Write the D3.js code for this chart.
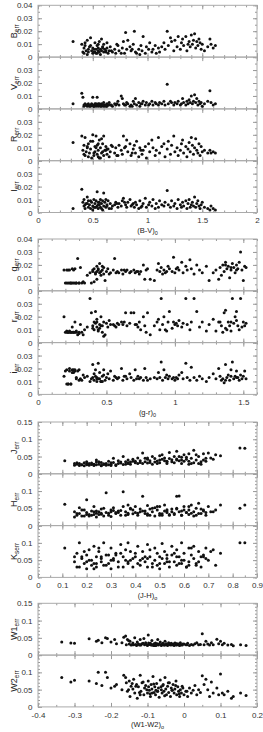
<!DOCTYPE html>
<html>
<head>
<meta charset="utf-8">
<script src="https://cdn.jsdelivr.net/npm/d3@7"></script>
<style>
body { margin: 0; background: #fff; }
svg { display: block; font-family: "Liberation Sans", Arial, sans-serif; }
.tick text { fill: #333; font-size: 8px; }
.tick line { stroke: #999; }
</style>
</head>
<body>
<script>
// ---- (B-V)0 group: B, V, R, I errors ----
const bv0 = [
  0.32, 0.40, 0.41, 0.42, 0.42, 0.43, 0.44, 0.45, 0.46, 0.46,
  0.47, 0.48, 0.49, 0.50, 0.50, 0.51, 0.52, 0.52, 0.53, 0.54,
  0.54, 0.55, 0.55, 0.56, 0.57, 0.57, 0.58, 0.59, 0.60, 0.60,
  0.61, 0.62, 0.63, 0.64, 0.65, 0.66, 0.68, 0.70, 0.71, 0.73,
  0.74, 0.76, 0.77, 0.78, 0.80, 0.81, 0.82, 0.84, 0.85, 0.87,
  0.88, 0.89, 0.90, 0.92, 0.93, 0.95, 0.96, 0.98, 0.99, 1.01,
  1.02, 1.04, 1.05, 1.07, 1.08, 1.10, 1.11, 1.13, 1.15, 1.16,
  1.18, 1.19, 1.21, 1.22, 1.24, 1.25, 1.27, 1.28, 1.30, 1.31,
  1.32, 1.33, 1.35, 1.36, 1.37, 1.38, 1.39, 1.40, 1.41, 1.42,
  1.43, 1.44, 1.45, 1.46, 1.47, 1.48, 1.49, 1.50, 1.52, 1.55,
  1.57, 1.58, 1.60, 1.62, 0.43, 0.48, 0.53, 0.56, 0.58, 0.62,
  0.45, 0.51, 0.55, 0.59, 0.63, 0.67, 0.72, 0.79, 0.86, 0.94
];
const errB = [
  0.012, 0.010, 0.004, 0.007, 0.003, 0.009, 0.005, 0.013, 0.006, 0.004,
  0.008, 0.015, 0.005, 0.007, 0.003, 0.006, 0.011, 0.004, 0.006, 0.009,
  0.003, 0.005, 0.007, 0.004, 0.006, 0.002, 0.005, 0.008, 0.004, 0.010,
  0.006, 0.004, 0.007, 0.003, 0.005, 0.008, 0.004, 0.006, 0.003, 0.009,
  0.005, 0.003, 0.007, 0.012, 0.019, 0.006, 0.013, 0.008, 0.005, 0.010,
  0.020, 0.004, 0.003, 0.006, 0.002, 0.005, 0.016, 0.003, 0.008, 0.006,
  0.011, 0.004, 0.006, 0.009, 0.003, 0.007, 0.004, 0.008, 0.011, 0.006,
  0.020, 0.009, 0.015, 0.012, 0.005, 0.013, 0.008, 0.016, 0.006, 0.011,
  0.014, 0.009, 0.016, 0.005, 0.010, 0.012, 0.008, 0.017, 0.010, 0.013,
  0.018, 0.007, 0.012, 0.009, 0.014, 0.011, 0.006, 0.010, 0.005, 0.008,
  0.014, 0.010, 0.007, 0.009, 0.011, 0.009, 0.003, 0.012, 0.014, 0.005,
  0.002, 0.004, 0.010, 0.007, 0.011, 0.005, 0.010, 0.003, 0.006, 0.009
];
const errV = [
  0.004, 0.012, 0.009, 0.003, 0.002, 0.004, 0.003, 0.002, 0.003, 0.004,
  0.002, 0.003, 0.004, 0.003, 0.009, 0.002, 0.004, 0.003, 0.002, 0.003,
  0.009, 0.003, 0.002, 0.004, 0.003, 0.002, 0.004, 0.003, 0.002, 0.005,
  0.003, 0.002, 0.004, 0.003, 0.005, 0.003, 0.002, 0.004, 0.003, 0.006,
  0.003, 0.010, 0.008, 0.004, 0.003, 0.005, 0.004, 0.002, 0.003, 0.006,
  0.004, 0.008, 0.003, 0.005, 0.002, 0.004, 0.006, 0.003, 0.005, 0.003,
  0.004, 0.006, 0.003, 0.005, 0.004, 0.003, 0.005, 0.004, 0.006, 0.003,
  0.019, 0.004, 0.006, 0.005, 0.003, 0.005, 0.004, 0.006, 0.003, 0.004,
  0.008, 0.005, 0.003, 0.006, 0.004, 0.007, 0.005, 0.010, 0.004, 0.006,
  0.011, 0.005, 0.008, 0.003, 0.006, 0.004, 0.005, 0.002, 0.004, 0.006,
  0.014, 0.005, 0.003, 0.004, 0.003, 0.002, 0.004, 0.003, 0.002, 0.003,
  0.003, 0.002, 0.004, 0.003, 0.002, 0.003, 0.004, 0.003, 0.002, 0.004
];
const errR = [
  0.014, 0.019, 0.008, 0.012, 0.005, 0.018, 0.007, 0.010, 0.003, 0.013,
  0.006, 0.009, 0.002, 0.015, 0.020, 0.004, 0.011, 0.007, 0.019, 0.005,
  0.012, 0.003, 0.008, 0.016, 0.002, 0.010, 0.006, 0.013, 0.004, 0.019,
  0.008, 0.011, 0.005, 0.009, 0.003, 0.007, 0.011, 0.006, 0.010, 0.004,
  0.012, 0.008, 0.005, 0.019, 0.011, 0.016, 0.007, 0.013, 0.004, 0.009,
  0.012, 0.006, 0.015, 0.003, 0.010, 0.005, 0.008, 0.011, 0.002, 0.013,
  0.007, 0.016, 0.010, 0.004, 0.008, 0.018, 0.006, 0.011, 0.013, 0.003,
  0.009, 0.015, 0.005, 0.012, 0.019, 0.007, 0.010, 0.004, 0.008, 0.013,
  0.016, 0.006, 0.011, 0.003, 0.009, 0.014, 0.007, 0.018, 0.012, 0.005,
  0.010, 0.017, 0.008, 0.006, 0.013, 0.004, 0.011, 0.007, 0.008, 0.006,
  0.008, 0.006, 0.007, 0.006, 0.004, 0.015, 0.010, 0.002, 0.017, 0.008,
  0.011, 0.006, 0.013, 0.007, 0.009, 0.012, 0.004, 0.010, 0.006, 0.008
];
const errI = [
  0.003, 0.018, 0.008, 0.005, 0.010, 0.003, 0.007, 0.012, 0.004, 0.009,
  0.006, 0.003, 0.008, 0.005, 0.002, 0.010, 0.004, 0.007, 0.009, 0.016,
  0.005, 0.003, 0.008, 0.006, 0.010, 0.004, 0.007, 0.002, 0.015, 0.005,
  0.008, 0.004, 0.006, 0.009, 0.003, 0.007, 0.005, 0.006, 0.008, 0.004,
  0.007, 0.005, 0.009, 0.011, 0.006, 0.004, 0.008, 0.010, 0.005, 0.007,
  0.004, 0.008, 0.006, 0.003, 0.009, 0.005, 0.007, 0.011, 0.004, 0.006,
  0.008, 0.005, 0.010, 0.003, 0.007, 0.004, 0.009, 0.006, 0.005, 0.008,
  0.017, 0.006, 0.004, 0.009, 0.005, 0.007, 0.003, 0.010, 0.006, 0.004,
  0.008, 0.005, 0.009, 0.003, 0.007, 0.010, 0.004, 0.006, 0.008, 0.005,
  0.012, 0.004, 0.007, 0.009, 0.005, 0.003, 0.006, 0.008, 0.004, 0.003,
  0.002, 0.005, 0.003, 0.002, 0.006, 0.009, 0.004, 0.008, 0.003, 0.010,
  0.007, 0.004, 0.006, 0.009, 0.005, 0.003, 0.007, 0.008, 0.006, 0.004
];

// ---- (g-r)0 group: g, r, i errors ----
const gr0 = [
  0.19, 0.20, 0.21, 0.21, 0.22, 0.23, 0.23, 0.24, 0.25, 0.25,
  0.26, 0.27, 0.27, 0.28, 0.29, 0.30, 0.31, 0.32, 0.33, 0.34,
  0.36, 0.38, 0.39, 0.40, 0.41, 0.41, 0.42, 0.43, 0.43, 0.44,
  0.45, 0.45, 0.46, 0.47, 0.48, 0.49, 0.50, 0.51, 0.52, 0.53,
  0.55, 0.56, 0.58, 0.59, 0.61, 0.62, 0.64, 0.65, 0.67, 0.68,
  0.70, 0.71, 0.73, 0.74, 0.75, 0.77, 0.78, 0.79, 0.80, 0.82,
  0.85, 0.87, 0.88, 0.89, 0.90, 0.91, 0.92, 0.93, 0.95, 0.96,
  0.98, 0.99, 1.00, 1.02, 1.03, 1.05, 1.06, 1.08, 1.09, 1.11,
  1.12, 1.14, 1.16, 1.18, 1.20, 1.23, 1.25, 1.28, 1.30, 1.32,
  1.33, 1.34, 1.35, 1.36, 1.37, 1.38, 1.39, 1.40, 1.41, 1.42,
  1.43, 1.44, 1.45, 1.46, 1.47, 1.48, 1.49, 1.50, 1.51, 1.52,
  0.22, 0.24, 0.26, 0.28, 0.30, 0.42, 0.44, 0.46, 0.48, 0.40,
  0.43, 0.47, 0.57, 0.63, 0.72, 0.94, 1.01, 1.37, 1.41, 1.45
];
const errg = [
  0.016, 0.006, 0.016, 0.006, 0.016, 0.006, 0.016, 0.006, 0.017, 0.006,
  0.016, 0.006, 0.017, 0.006, 0.025, 0.006, 0.018, 0.006, 0.007, 0.006,
  0.012, 0.014, 0.006, 0.015, 0.017, 0.007, 0.013, 0.019, 0.009, 0.016,
  0.014, 0.021, 0.012, 0.016, 0.018, 0.008, 0.015, 0.017, 0.013, 0.014,
  0.016, 0.025, 0.015, 0.014, 0.016, 0.013, 0.015, 0.016, 0.014, 0.015,
  0.016, 0.014, 0.015, 0.013, 0.015, 0.020, 0.009, 0.016, 0.017, 0.009,
  0.008, 0.016, 0.021, 0.015, 0.018, 0.013, 0.016, 0.014, 0.019, 0.017,
  0.015, 0.026, 0.014, 0.018, 0.016, 0.022, 0.014, 0.019, 0.016, 0.024,
  0.017, 0.013, 0.020, 0.016, 0.014, 0.019, 0.008, 0.014, 0.016, 0.009,
  0.018, 0.012, 0.020, 0.015, 0.022, 0.017, 0.019, 0.010, 0.016, 0.021,
  0.018, 0.014, 0.020, 0.017, 0.022, 0.030, 0.016, 0.008, 0.019, 0.018,
  0.006, 0.006, 0.006, 0.006, 0.006, 0.014, 0.017, 0.015, 0.013, 0.016,
  0.015, 0.019, 0.014, 0.016, 0.015, 0.015, 0.017, 0.020, 0.018, 0.016
];
const errr = [
  0.020, 0.008, 0.008, 0.009, 0.008, 0.008, 0.009, 0.008, 0.008, 0.012,
  0.008, 0.016, 0.008, 0.009, 0.006, 0.008, 0.014, 0.008, 0.006, 0.010,
  0.012, 0.034, 0.023, 0.013, 0.016, 0.010, 0.024, 0.012, 0.018, 0.009,
  0.014, 0.011, 0.020, 0.013, 0.016, 0.006, 0.015, 0.012, 0.017, 0.014,
  0.014, 0.013, 0.015, 0.014, 0.016, 0.014, 0.023, 0.013, 0.015, 0.023,
  0.023, 0.014, 0.012, 0.016, 0.010, 0.020, 0.013, 0.008, 0.023, 0.006,
  0.013, 0.016, 0.018, 0.010, 0.034, 0.014, 0.020, 0.010, 0.016, 0.024,
  0.011, 0.016, 0.014, 0.013, 0.017, 0.012, 0.015, 0.034, 0.014, 0.010,
  0.016, 0.034, 0.024, 0.012, 0.016, 0.009, 0.014, 0.018, 0.009, 0.016,
  0.016, 0.013, 0.008, 0.023, 0.011, 0.010, 0.016, 0.013, 0.009, 0.034,
  0.015, 0.020, 0.024, 0.013, 0.010, 0.034, 0.012, 0.016, 0.013, 0.015,
  0.008, 0.008, 0.008, 0.008, 0.007, 0.015, 0.010, 0.013, 0.005, 0.011,
  0.016, 0.008, 0.012, 0.016, 0.014, 0.009, 0.015, 0.025, 0.016, 0.017
];
const erri = [
  0.014, 0.018, 0.008, 0.019, 0.008, 0.020, 0.018, 0.008, 0.019, 0.017,
  0.019, 0.018, 0.019, 0.012, 0.018, 0.019, 0.012, 0.011, 0.015, 0.013,
  0.014, 0.010, 0.012, 0.023, 0.011, 0.016, 0.019, 0.013, 0.010, 0.024,
  0.012, 0.017, 0.010, 0.014, 0.019, 0.011, 0.013, 0.016, 0.012, 0.018,
  0.011, 0.014, 0.012, 0.013, 0.020, 0.011, 0.014, 0.012, 0.016, 0.013,
  0.011, 0.019, 0.014, 0.012, 0.013, 0.011, 0.020, 0.013, 0.011, 0.012,
  0.013, 0.012, 0.017, 0.013, 0.025, 0.011, 0.019, 0.013, 0.012, 0.014,
  0.012, 0.013, 0.011, 0.012, 0.015, 0.017, 0.012, 0.024, 0.013, 0.011,
  0.021, 0.013, 0.011, 0.014, 0.012, 0.010, 0.013, 0.016, 0.012, 0.020,
  0.014, 0.011, 0.012, 0.009, 0.023, 0.013, 0.015, 0.011, 0.019, 0.025,
  0.012, 0.014, 0.018, 0.013, 0.011, 0.015, 0.012, 0.014, 0.018, 0.012,
  0.008, 0.008, 0.017, 0.013, 0.011, 0.014, 0.012, 0.010, 0.015, 0.013,
  0.012, 0.010, 0.013, 0.014, 0.012, 0.015, 0.013, 0.011, 0.014, 0.013
];

// ---- (J-H)o group: J, H, Ks errors ----
const jh0 = [
  0.11, 0.15, 0.16, 0.17, 0.17, 0.18, 0.19, 0.20, 0.20, 0.21,
  0.22, 0.22, 0.23, 0.24, 0.24, 0.25, 0.26, 0.26, 0.27, 0.28,
  0.28, 0.29, 0.30, 0.30, 0.31, 0.32, 0.33, 0.34, 0.35, 0.35,
  0.36, 0.37, 0.37, 0.38, 0.39, 0.40, 0.40, 0.41, 0.42, 0.43,
  0.43, 0.44, 0.45, 0.45, 0.46, 0.47, 0.48, 0.48, 0.49, 0.50,
  0.50, 0.51, 0.52, 0.52, 0.53, 0.54, 0.55, 0.55, 0.56, 0.57,
  0.57, 0.58, 0.59, 0.59, 0.60, 0.61, 0.62, 0.62, 0.63, 0.64,
  0.64, 0.65, 0.66, 0.67, 0.68, 0.69, 0.70, 0.72, 0.75, 0.83,
  0.85, 0.16, 0.18, 0.21, 0.23, 0.25, 0.27, 0.29, 0.31, 0.33,
  0.36, 0.38, 0.41, 0.44, 0.46, 0.49, 0.51, 0.53, 0.56, 0.58,
  0.60, 0.63, 0.65, 0.67, 0.19, 0.24, 0.32, 0.39, 0.47, 0.54,
  0.61, 0.68, 0.20, 0.26, 0.34, 0.42, 0.50, 0.57, 0.66, 0.71,
  0.15, 0.23, 0.30, 0.37, 0.45, 0.53, 0.59, 0.62, 0.69, 0.73
];
const errJ = [
  0.038, 0.025, 0.028, 0.024, 0.030, 0.026, 0.023, 0.029, 0.035, 0.025,
  0.027, 0.031, 0.024, 0.040, 0.026, 0.028, 0.033, 0.024, 0.027, 0.030,
  0.025, 0.036, 0.028, 0.032, 0.045, 0.026, 0.030, 0.034, 0.050, 0.027,
  0.035, 0.030, 0.040, 0.028, 0.042, 0.036, 0.032, 0.046, 0.038, 0.030,
  0.060, 0.035, 0.042, 0.031, 0.038, 0.050, 0.034, 0.044, 0.037, 0.040,
  0.032, 0.055, 0.038, 0.046, 0.030, 0.062, 0.041, 0.035, 0.050, 0.043,
  0.065, 0.038, 0.048, 0.030, 0.055, 0.042, 0.036, 0.058, 0.045, 0.032,
  0.068, 0.040, 0.050, 0.035, 0.058, 0.045, 0.060, 0.042, 0.052, 0.075,
  0.074, 0.032, 0.026, 0.030, 0.028, 0.035, 0.029, 0.026, 0.033, 0.038,
  0.028, 0.034, 0.030, 0.045, 0.033, 0.030, 0.042, 0.036, 0.032, 0.050,
  0.036, 0.030, 0.055, 0.028, 0.032, 0.034, 0.024, 0.036, 0.028, 0.044,
  0.048, 0.040, 0.026, 0.023, 0.031, 0.033, 0.052, 0.040, 0.030, 0.046,
  0.030, 0.027, 0.024, 0.032, 0.046, 0.034, 0.040, 0.028, 0.036, 0.055
];
const errH = [
  0.062, 0.040, 0.030, 0.052, 0.035, 0.028, 0.045, 0.038, 0.075, 0.032,
  0.042, 0.030, 0.055, 0.036, 0.025, 0.040, 0.033, 0.048, 0.028, 0.095,
  0.038, 0.030, 0.045, 0.026, 0.052, 0.035, 0.042, 0.030, 0.098, 0.055,
  0.040, 0.060, 0.032, 0.050, 0.045, 0.038, 0.055, 0.030, 0.048, 0.085,
  0.042, 0.035, 0.058, 0.030, 0.048, 0.040, 0.052, 0.028, 0.045, 0.035,
  0.055, 0.030, 0.042, 0.060, 0.038, 0.032, 0.048, 0.040, 0.035, 0.085,
  0.050, 0.086, 0.042, 0.030, 0.055, 0.038, 0.045, 0.032, 0.060, 0.040,
  0.028, 0.050, 0.065, 0.035, 0.045, 0.030, 0.055, 0.040, 0.060, 0.050,
  0.060, 0.035, 0.045, 0.028, 0.040, 0.032, 0.050, 0.036, 0.044, 0.038,
  0.030, 0.048, 0.036, 0.042, 0.030, 0.055, 0.034, 0.046, 0.032, 0.040,
  0.045, 0.036, 0.030, 0.048, 0.028, 0.042, 0.038, 0.034, 0.050, 0.030,
  0.038, 0.042, 0.032, 0.036, 0.044, 0.040, 0.030, 0.048, 0.035, 0.040,
  0.025, 0.032, 0.040, 0.036, 0.034, 0.042, 0.030, 0.055, 0.038, 0.045
];
const errKs = [
  0.085, 0.045, 0.070, 0.030, 0.100, 0.055, 0.040, 0.065, 0.025, 0.080,
  0.050, 0.035, 0.090, 0.060, 0.030, 0.075, 0.045, 0.055, 0.100, 0.035,
  0.065, 0.040, 0.085, 0.025, 0.055, 0.070, 0.045, 0.095, 0.030, 0.060,
  0.080, 0.040, 0.100, 0.050, 0.030, 0.070, 0.060, 0.090, 0.035, 0.055,
  0.075, 0.045, 0.030, 0.095, 0.060, 0.040, 0.085, 0.050, 0.070, 0.025,
  0.060, 0.098, 0.040, 0.075, 0.055, 0.030, 0.090, 0.065, 0.045, 0.080,
  0.035, 0.060, 0.100, 0.050, 0.070, 0.030, 0.085, 0.045, 0.065, 0.055,
  0.090, 0.040, 0.075, 0.030, 0.060, 0.085, 0.050, 0.080, 0.070, 0.100,
  0.100, 0.030, 0.060, 0.050, 0.040, 0.085, 0.035, 0.065, 0.050, 0.030,
  0.050, 0.075, 0.040, 0.060, 0.080, 0.035, 0.055, 0.045, 0.070, 0.040,
  0.050, 0.085, 0.035, 0.060, 0.075, 0.040, 0.065, 0.055, 0.030, 0.045,
  0.030, 0.065, 0.045, 0.060, 0.070, 0.050, 0.040, 0.060, 0.045, 0.075,
  0.060, 0.025, 0.050, 0.045, 0.055, 0.065, 0.040, 0.035, 0.055, 0.035
];

// ---- (W1-W2)o group: W1, W2 errors ----
const w12 = [
  -0.335, -0.31, -0.30, -0.26, -0.24, -0.235, -0.225, -0.215, -0.21, -0.20,
  -0.19, -0.185, -0.17, -0.165, -0.16, -0.158, -0.155, -0.15, -0.148, -0.145,
  -0.14, -0.138, -0.135, -0.13, -0.128, -0.125, -0.12, -0.118, -0.115, -0.11,
  -0.108, -0.105, -0.10, -0.098, -0.095, -0.092, -0.09, -0.088, -0.085, -0.082,
  -0.08, -0.078, -0.075, -0.072, -0.07, -0.068, -0.065, -0.062, -0.06, -0.058,
  -0.055, -0.052, -0.05, -0.048, -0.045, -0.042, -0.04, -0.037, -0.035, -0.032,
  -0.03, -0.027, -0.025, -0.022, -0.02, -0.017, -0.015, -0.012, -0.01, -0.007,
  -0.005, 0.0, 0.005, 0.01, 0.015, 0.02, 0.025, 0.03, 0.035, 0.04,
  0.045, 0.05, 0.055, 0.06, 0.065, 0.07, 0.075, 0.08, 0.09, 0.095,
  0.10, 0.105, 0.11, 0.12, 0.13, 0.135, 0.155, 0.17, -0.152, -0.142,
  -0.132, -0.122, -0.112, -0.102, -0.093, -0.083, -0.073, -0.063, -0.053, -0.043,
  -0.033, -0.023, -0.013, -0.003, 0.008, -0.12, -0.097, -0.077, -0.057, -0.087
];
const errW1 = [
  0.038, 0.035, 0.034, 0.047, 0.040, 0.043, 0.036, 0.050, 0.048, 0.038,
  0.045, 0.033, 0.036, 0.052, 0.055, 0.030, 0.045, 0.032, 0.040, 0.029,
  0.035, 0.030, 0.050, 0.028, 0.038, 0.032, 0.045, 0.029, 0.033, 0.048,
  0.030, 0.036, 0.028, 0.058, 0.031, 0.034, 0.029, 0.042, 0.030, 0.033,
  0.028, 0.035, 0.030, 0.045, 0.029, 0.032, 0.038, 0.028, 0.031, 0.034,
  0.029, 0.040, 0.030, 0.033, 0.028, 0.036, 0.031, 0.029, 0.034, 0.030,
  0.032, 0.028, 0.035, 0.030, 0.029, 0.033, 0.031, 0.028, 0.036, 0.030,
  0.029, 0.032, 0.030, 0.034, 0.028, 0.031, 0.029, 0.033, 0.036, 0.030,
  0.031, 0.062, 0.030, 0.040, 0.032, 0.029, 0.036, 0.030, 0.046, 0.033,
  0.040, 0.030, 0.034, 0.029, 0.031, 0.027, 0.030, 0.028, 0.042, 0.030,
  0.031, 0.029, 0.034, 0.030, 0.032, 0.028, 0.033, 0.030, 0.029, 0.031,
  0.030, 0.034, 0.029, 0.032, 0.030, 0.030, 0.035, 0.028, 0.032, 0.029
];
const errW2 = [
  0.085, 0.072, 0.077, 0.075, 0.068, 0.100, 0.062, 0.100, 0.085, 0.055,
  0.060, 0.065, 0.050, 0.092, 0.085, 0.070, 0.045, 0.075, 0.030, 0.060,
  0.052, 0.080, 0.040, 0.065, 0.025, 0.058, 0.092, 0.045, 0.070, 0.035,
  0.055, 0.062, 0.040, 0.075, 0.048, 0.030, 0.065, 0.052, 0.088, 0.042,
  0.058, 0.035, 0.068, 0.045, 0.055, 0.028, 0.078, 0.050, 0.040, 0.062,
  0.045, 0.085, 0.052, 0.035, 0.060, 0.042, 0.070, 0.030, 0.055, 0.048,
  0.065, 0.040, 0.052, 0.075, 0.035, 0.058, 0.045, 0.030, 0.050, 0.040,
  0.060, 0.035, 0.045, 0.030, 0.055, 0.040, 0.048, 0.062, 0.035, 0.050,
  0.042, 0.090, 0.065, 0.080, 0.050, 0.030, 0.072, 0.040, 0.055, 0.035,
  0.095, 0.040, 0.035, 0.045, 0.025, 0.030, 0.040, 0.033, 0.050, 0.068,
  0.060, 0.042, 0.072, 0.050, 0.038, 0.066, 0.045, 0.058, 0.032, 0.070,
  0.048, 0.062, 0.038, 0.055, 0.045, 0.035, 0.058, 0.048, 0.065, 0.040
];

// tick labels
const bvTicks = [0, 0.5, 1, 1.5, 2];
const grTicks = [0, 0.5, 1, 1.5];
const jhTicks = [0, 0.1, 0.2, 0.3, 0.4, 0.5, 0.6, 0.7, 0.8, 0.9];
const wTicks = [-0.4, -0.3, -0.2, -0.1, 0, 0.1, 0.2];
const errTicksSmall = [0, 0.01, 0.02, 0.03, 0.04];
const errTicksLarge = [0, 0.05, 0.1, 0.15];

const width = 263, height = 732;
const left = 38, right = 257, panelH = 51.8;

const groups = [
  { top: 5.3, xs: bv0, xdom: [0, 2], xticks: bvTicks, xminor: 0.1, xlab: ["(B-V)", "0"],
    ydom: [0, 0.04], yticks: errTicksSmall, yminor: 0.005,
    panels: [["B", "err", errB], ["V", "err", errV], ["R", "err", errR], ["I", "err", errI]] },
  { top: 239, xs: gr0, xdom: [0, 1.6], xticks: grTicks, xminor: 0.1, xlab: ["(g-r)", "0"],
    ydom: [0, 0.04], yticks: errTicksSmall, yminor: 0.005,
    panels: [["g", "err", errg], ["r", "err", errr], ["i", "err", erri]] },
  { top: 422, xs: jh0, xdom: [0, 0.9], xticks: jhTicks, xminor: 0.05, xlab: ["(J-H)", "o"],
    ydom: [0, 0.15], yticks: errTicksLarge, yminor: 0.01,
    panels: [["J", "err", errJ], ["H", "err", errH], ["K", "serr", errKs]] },
  { top: 603.3, xs: w12, xdom: [-0.4, 0.2], xticks: wTicks, xminor: 0.05, xlab: ["(W1-W2)", "o"],
    ydom: [0, 0.15], yticks: errTicksLarge, yminor: 0.01,
    panels: [["W1", "err", errW1], ["W2", "err", errW2]] }
];

const svg = d3.select("body").append("svg")
  .attr("width", width)
  .attr("height", height);

function minorTicks(dom, step) {
  const n = Math.round((dom[1] - dom[0]) / step);
  return d3.range(n + 1).map(k => dom[0] + k * step);
}

function clean(g) {
  g.select(".domain").remove();
}

groups.forEach(grp => {
  const x = d3.scaleLinear().domain(grp.xdom).range([left, right]);
  const xMinor = minorTicks(grp.xdom, grp.xminor);
  const yMinor = minorTicks(grp.ydom, grp.yminor);

  grp.panels.forEach((p, i) => {
    const y0 = grp.top + i * panelH;
    const y = d3.scaleLinear().domain(grp.ydom).range([y0 + panelH, y0]);
    const last = i === grp.panels.length - 1;
    const g = svg.append("g");

    // minor ticks on all four sides
    g.append("g").attr("transform", `translate(0,${y0 + panelH})`)
      .call(d3.axisBottom(x).tickValues(xMinor).tickSize(-2).tickFormat("")).call(clean);
    g.append("g").attr("transform", `translate(0,${y0})`)
      .call(d3.axisTop(x).tickValues(xMinor).tickSize(-2).tickFormat("")).call(clean);
    g.append("g").attr("transform", `translate(${left},0)`)
      .call(d3.axisLeft(y).tickValues(yMinor).tickSize(-2).tickFormat("")).call(clean);
    g.append("g").attr("transform", `translate(${right},0)`)
      .call(d3.axisRight(y).tickValues(yMinor).tickSize(-2).tickFormat("")).call(clean);

    // major ticks
    g.append("g").attr("transform", `translate(0,${y0 + panelH})`)
      .call(d3.axisBottom(x).tickValues(grp.xticks).tickSize(-4).tickPadding(5)
        .tickFormat(d => last ? String(d) : "")).call(clean);
    g.append("g").attr("transform", `translate(0,${y0})`)
      .call(d3.axisTop(x).tickValues(grp.xticks).tickSize(-4).tickFormat("")).call(clean);
    g.append("g").attr("transform", `translate(${left},0)`)
      .call(d3.axisLeft(y).tickValues(grp.yticks).tickSize(-4).tickPadding(5.5)
        .tickFormat(d => (i > 0 && d === grp.ydom[1]) ? "" : String(d))).call(clean);
    g.append("g").attr("transform", `translate(${right},0)`)
      .call(d3.axisRight(y).tickValues(grp.yticks).tickSize(-4).tickFormat("")).call(clean);

    // frame
    g.append("rect")
      .attr("x", left).attr("y", y0)
      .attr("width", right - left).attr("height", panelH)
      .attr("fill", "none").attr("stroke", "#aaa").attr("stroke-width", 1);

    // points
    const pts = grp.xs.map((v, k) => [v, p[2][k]]);
    g.append("g").selectAll("circle")
      .data(pts)
      .enter()
      .append("circle")
      .attr("cx", d => x(d[0]))
      .attr("cy", d => y(d[1]))
      .attr("r", 1.5)
      .attr("fill", "#111");

    // y title
    const t = g.append("text")
      .attr("transform", `translate(17,${y0 + panelH / 2}) rotate(-90)`)
      .attr("text-anchor", "middle")
      .attr("fill", "#222")
      .style("font-size", "9px");
    t.append("tspan").text(p[0]);
    t.append("tspan").attr("dy", "0.35em").style("font-size", "6.5px").text(p[1]);
  });

  // x title
  const bottom = grp.top + grp.panels.length * panelH;
  const xt = svg.append("text")
    .attr("x", (left + right) / 2)
    .attr("y", bottom + 20.5)
    .attr("text-anchor", "middle")
    .attr("fill", "#222")
    .style("font-size", "7.5px");
  xt.append("tspan").text(grp.xlab[0]);
  xt.append("tspan").attr("dy", "0.3em").style("font-size", "5.5px").text(grp.xlab[1]);
});
</script>
</body>
</html>
